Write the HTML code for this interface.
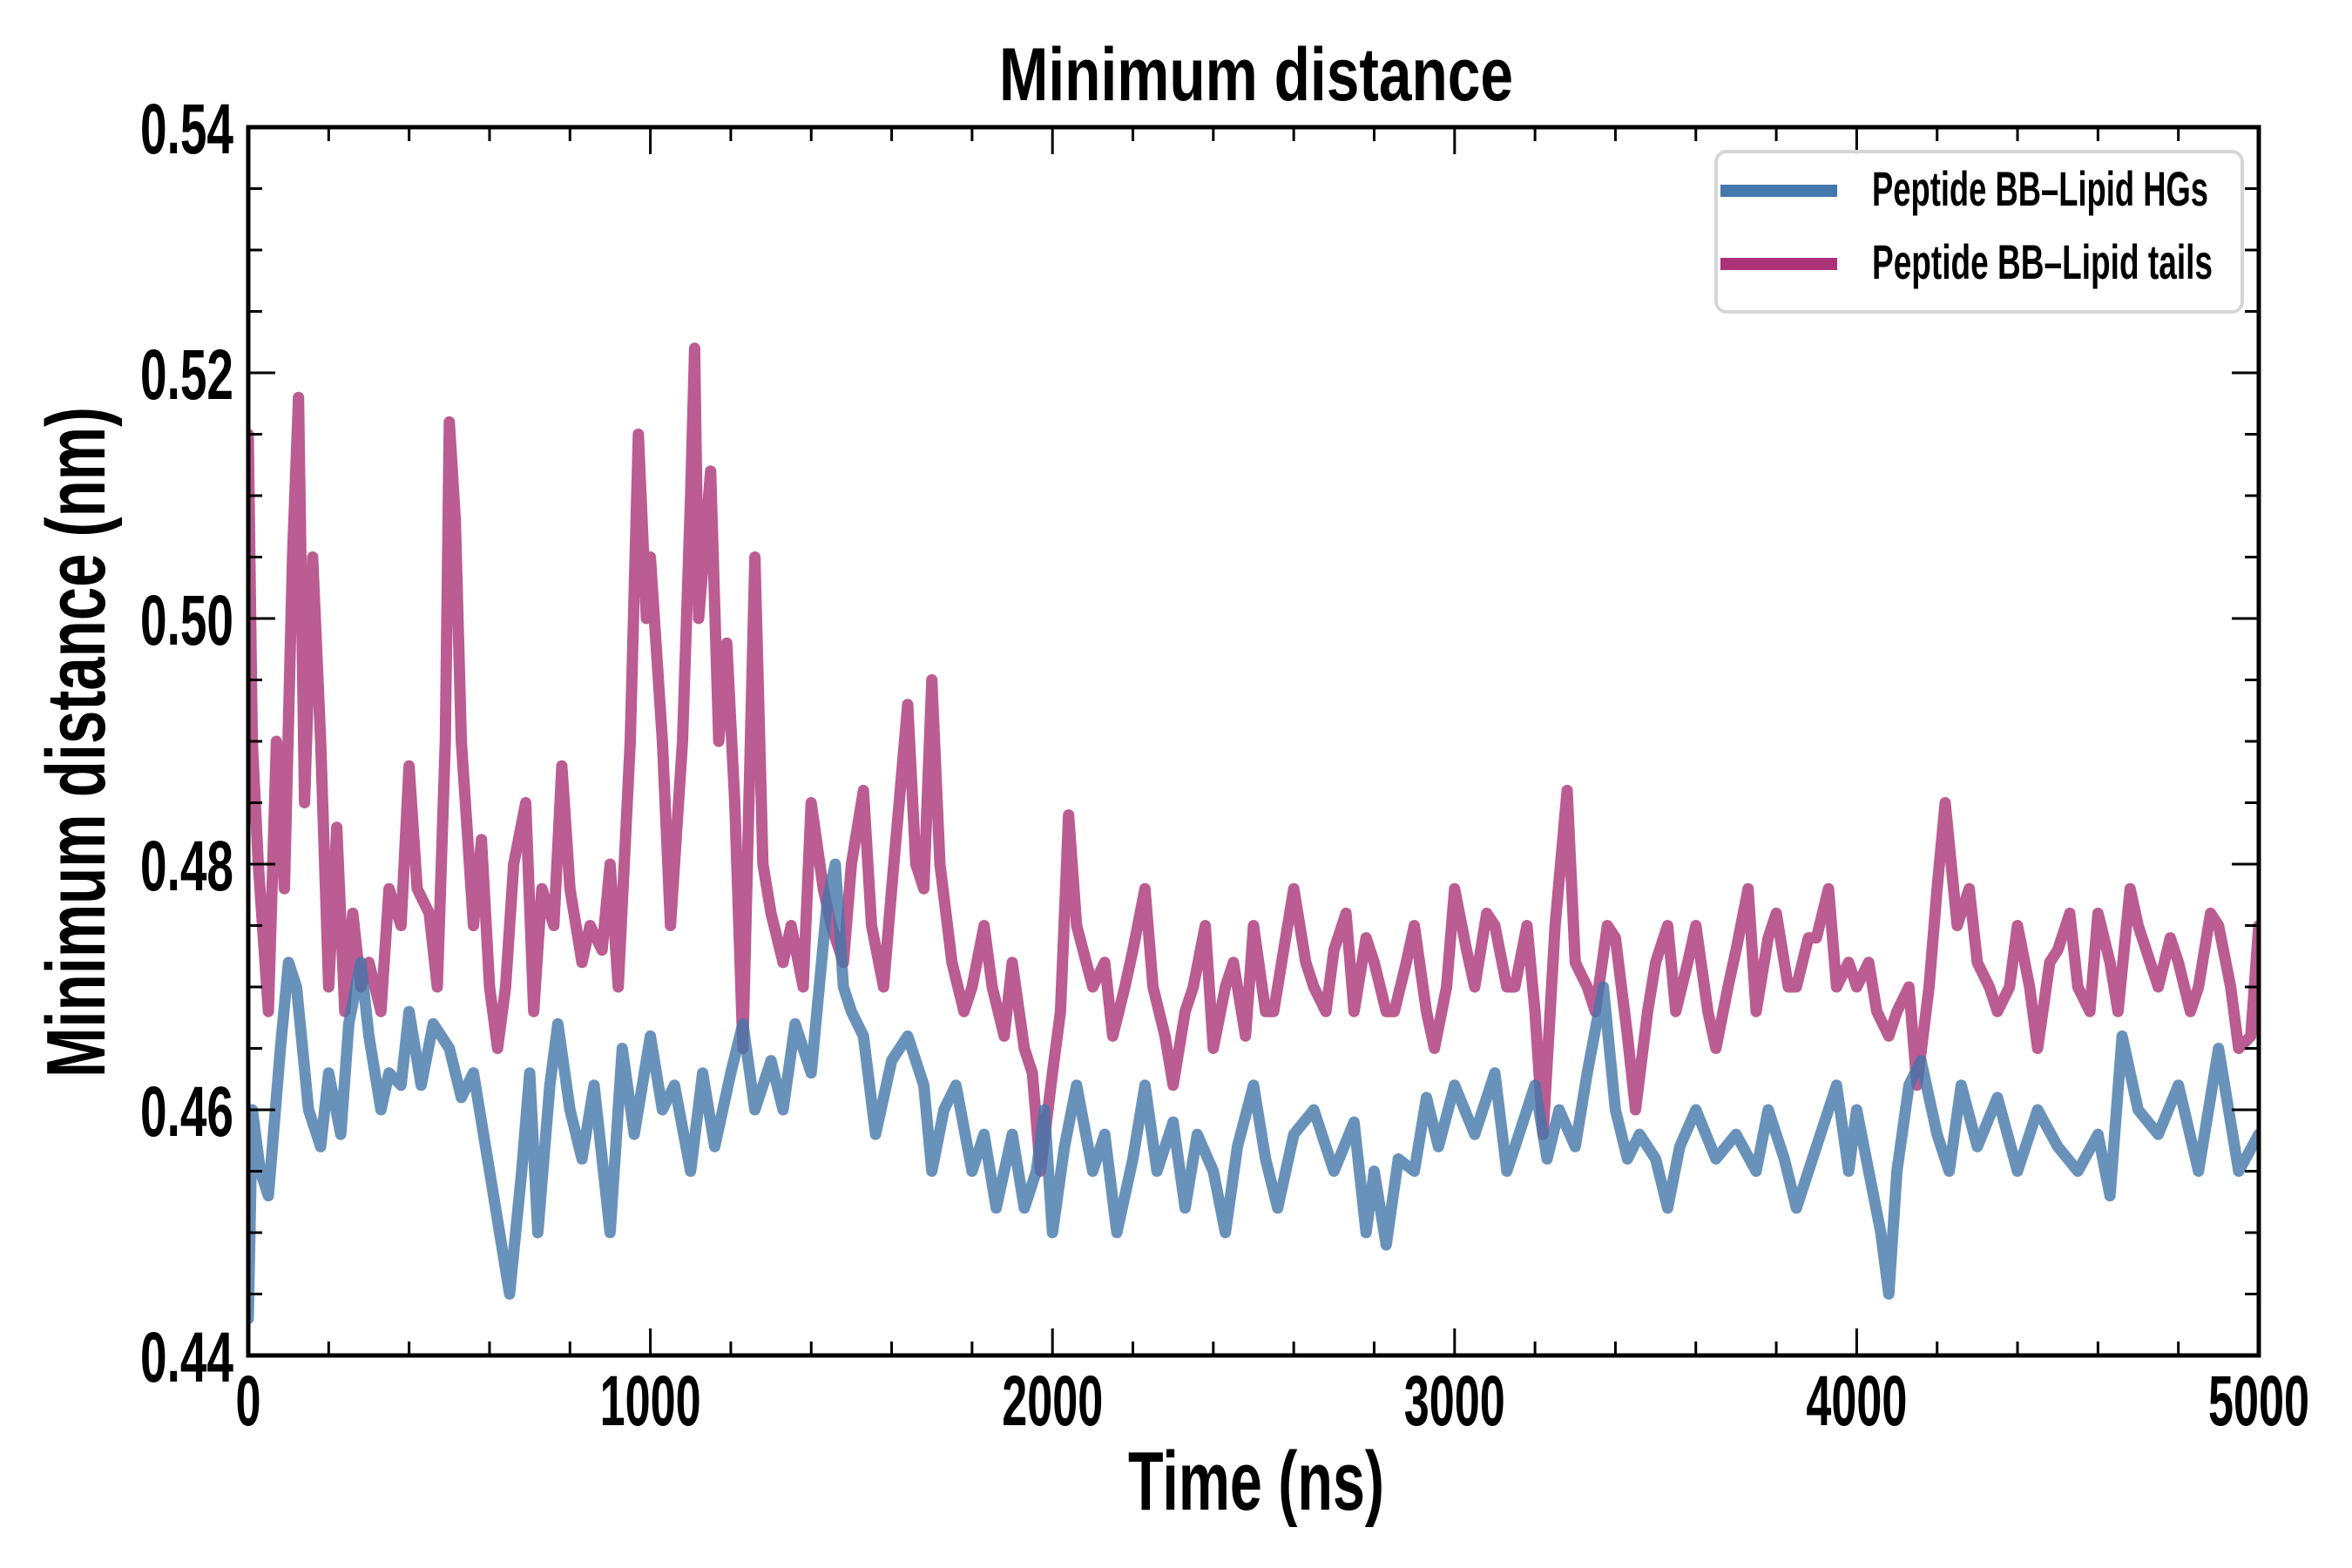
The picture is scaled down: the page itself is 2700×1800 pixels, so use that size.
<!DOCTYPE html>
<html><head><meta charset="utf-8"><style>
html,body{margin:0;padding:0;background:#fff;}
svg{display:block;}
text{font-family:"Liberation Sans Narrow","Liberation Sans",sans-serif;font-weight:bold;fill:#000;}
</style></head><body>
<svg id="chart" width="2700" height="1800" viewBox="0 0 2700 1800" xmlns="http://www.w3.org/2000/svg">
<rect width="2700" height="1800" fill="#fff"/>
<g id="series"></g>
<g id="axes"></g>
<text x="1442" y="115" font-size="86" text-anchor="middle" textLength="590" lengthAdjust="spacingAndGlyphs">Minimum distance</text>
<text x="1442" y="1733" font-size="96" text-anchor="middle" textLength="294" lengthAdjust="spacingAndGlyphs">Time (ns)</text>
<text transform="translate(120,852) rotate(-90)" x="0" y="0" font-size="96" text-anchor="middle" textLength="770" lengthAdjust="spacingAndGlyphs">Minimum distance (nm)</text>
<g>
<rect x="1970" y="174" width="604" height="184" rx="12" fill="#fff" fill-opacity="0.85" stroke="#d6d6d6" stroke-width="4"/>
<rect x="1975" y="212" width="134" height="14" fill="#4477aa"/>
<text x="2149" y="236" font-size="56" textLength="386" lengthAdjust="spacingAndGlyphs">Peptide BB–Lipid HGs</text>
<rect x="1975" y="296" width="134" height="14" fill="#aa3377"/>
<text x="2149" y="320" font-size="56" textLength="391" lengthAdjust="spacingAndGlyphs">Peptide BB–Lipid tails</text>
</g>
</svg>
<script>
const tailTimes=[0,10,25,50,70,90,110,125,140,160,180,200,220,240,260,280,300,330,350,380,400,420,450,470,490,500,515,530,560,580,600,620,640,660,690,710,730,760,780,800,830,850,880,900,920,950,970,990,1000,1030,1050,1080,1100,1110,1120,1150,1170,1190,1210,1230,1260,1280,1300,1330,1350,1380,1400,1430,1450,1480,1500,1530,1550,1580,1600,1640,1660,1680,1700,1720,1750,1780,1800,1830,1850,1880,1900,1930,1950,1970,2000,2020,2040,2060,2100,2130,2150,2180,2200,2230,2250,2280,2300,2330,2350,2380,2400,2430,2450,2480,2500,2530,2550,2580,2600,2630,2650,2680,2700,2730,2750,2780,2800,2830,2850,2880,2900,2930,2950,2980,3000,3030,3050,3080,3100,3130,3150,3180,3200,3220,3250,3280,3300,3330,3350,3380,3400,3430,3450,3480,3500,3530,3550,3580,3600,3630,3650,3680,3700,3730,3750,3780,3800,3830,3850,3880,3900,3930,3950,3980,4000,4030,4050,4080,4100,4130,4150,4180,4200,4220,4250,4280,4300,4330,4350,4380,4400,4430,4450,4480,4500,4530,4550,4580,4600,4630,4650,4680,4700,4730,4750,4780,4800,4830,4850,4880,4900,4930,4950,4980,5000];
const tailValues=[0.515,0.49,0.48,0.468,0.49,0.478,0.505,0.518,0.485,0.505,0.49,0.47,0.483,0.468,0.476,0.47,0.472,0.468,0.478,0.475,0.488,0.478,0.476,0.47,0.49,0.516,0.508,0.49,0.475,0.482,0.47,0.465,0.47,0.48,0.485,0.468,0.478,0.475,0.488,0.478,0.472,0.475,0.473,0.48,0.47,0.49,0.515,0.5,0.505,0.49,0.475,0.49,0.51,0.522,0.5,0.512,0.49,0.498,0.485,0.465,0.505,0.48,0.476,0.472,0.475,0.47,0.485,0.478,0.475,0.472,0.48,0.486,0.475,0.47,0.478,0.493,0.48,0.478,0.495,0.48,0.472,0.468,0.47,0.475,0.47,0.466,0.472,0.465,0.463,0.455,0.463,0.468,0.484,0.475,0.47,0.472,0.466,0.47,0.473,0.478,0.47,0.466,0.462,0.468,0.47,0.475,0.465,0.47,0.472,0.466,0.475,0.468,0.468,0.474,0.478,0.472,0.47,0.468,0.473,0.476,0.468,0.474,0.472,0.468,0.468,0.472,0.475,0.468,0.465,0.47,0.478,0.473,0.47,0.476,0.475,0.47,0.47,0.475,0.468,0.458,0.475,0.486,0.472,0.47,0.468,0.475,0.474,0.466,0.46,0.468,0.472,0.475,0.468,0.472,0.475,0.468,0.465,0.47,0.473,0.478,0.468,0.474,0.476,0.47,0.47,0.474,0.474,0.478,0.47,0.472,0.47,0.472,0.468,0.466,0.468,0.47,0.462,0.47,0.478,0.485,0.475,0.478,0.472,0.47,0.468,0.47,0.475,0.47,0.465,0.472,0.473,0.476,0.47,0.468,0.476,0.472,0.468,0.478,0.475,0.472,0.47,0.474,0.472,0.468,0.47,0.476,0.475,0.47,0.465,0.466,0.475];
const hgTimes=[0,10,30,50,80,100,120,150,180,200,230,250,280,300,330,350,380,400,430,460,500,530,560,600,630,650,680,700,720,750,770,800,830,860,900,930,960,1000,1030,1060,1100,1130,1160,1200,1230,1260,1300,1330,1360,1400,1440,1460,1480,1500,1530,1560,1600,1640,1680,1700,1730,1760,1800,1830,1860,1900,1930,1960,1980,2000,2030,2060,2100,2130,2160,2200,2230,2260,2300,2330,2360,2400,2430,2460,2500,2530,2560,2600,2650,2700,2750,2780,2800,2830,2860,2900,2930,2960,3000,3050,3100,3130,3160,3200,3230,3260,3300,3330,3370,3400,3430,3460,3500,3530,3560,3600,3650,3700,3750,3780,3820,3850,3900,3950,3980,4000,4030,4060,4080,4100,4130,4160,4200,4230,4260,4300,4350,4400,4450,4500,4550,4600,4630,4660,4700,4750,4800,4850,4900,4950,5000];
const hgValues=[0.443,0.46,0.455,0.453,0.465,0.472,0.47,0.46,0.457,0.463,0.458,0.467,0.472,0.466,0.46,0.463,0.462,0.468,0.462,0.467,0.465,0.461,0.463,0.455,0.449,0.445,0.455,0.463,0.45,0.462,0.467,0.46,0.456,0.462,0.45,0.465,0.458,0.466,0.46,0.462,0.455,0.463,0.457,0.463,0.467,0.46,0.464,0.46,0.467,0.463,0.477,0.48,0.47,0.468,0.466,0.458,0.464,0.466,0.462,0.455,0.46,0.462,0.455,0.458,0.452,0.458,0.452,0.455,0.46,0.45,0.457,0.462,0.455,0.458,0.45,0.456,0.462,0.455,0.459,0.452,0.458,0.455,0.45,0.457,0.462,0.456,0.452,0.458,0.46,0.455,0.459,0.45,0.455,0.449,0.456,0.455,0.461,0.457,0.462,0.458,0.463,0.455,0.458,0.462,0.456,0.46,0.457,0.463,0.47,0.46,0.456,0.458,0.456,0.452,0.457,0.46,0.456,0.458,0.455,0.46,0.456,0.452,0.457,0.462,0.455,0.46,0.455,0.45,0.445,0.455,0.462,0.464,0.458,0.455,0.462,0.457,0.461,0.455,0.46,0.457,0.455,0.458,0.453,0.466,0.46,0.458,0.462,0.455,0.465,0.455,0.458];
const xTickLabels=["0","1000","2000","3000","4000","5000"];
const yTickLabels=["0.44","0.46","0.48","0.50","0.52","0.54"];

const NS="http://www.w3.org/2000/svg";
const X0=285,X1=2593,Y0=1556,Y1=146;
const xMin=0,xMax=5000,yMin=0.44,yMax=0.54;
function sx(v){return X0+(v-xMin)/(xMax-xMin)*(X1-X0);}
function sy(v){return Y0-(v-yMin)/(yMax-yMin)*(Y0-Y1);}
function mk(tag,attrs,parent){const e=document.createElementNS(NS,tag);for(const k in attrs)e.setAttribute(k,attrs[k]);parent.appendChild(e);return e;}

const sg=document.getElementById('series');
function drawLine(ts,vs,color,name){
  let d='';
  for(let i=0;i<ts.length;i++){d+=(i?'L':'M')+sx(ts[i]).toFixed(1)+','+sy(vs[i]).toFixed(1);}
  const p=mk('path',{d:d,fill:'none',stroke:color,'stroke-opacity':0.8,'stroke-width':13,'stroke-linejoin':'round','stroke-linecap':'round'},sg);
  
  
}
const clip=mk('clipPath',{id:'pc'},sg);mk('rect',{x:X0,y:Y1,width:X1-X0,height:Y0-Y1},clip);
sg.setAttribute('clip-path','url(#pc)');
drawLine(tailTimes,tailValues,'#aa3377','tails-line');
drawLine(hgTimes,hgValues,'#4477aa','hgs-line');

const ax=document.getElementById('axes');
const frame=mk('rect',{x:X0,y:Y1,width:X1-X0,height:Y0-Y1,fill:'none',stroke:'#000','stroke-width':5},ax);


for(let v=0;v<=5000;v+=200){
  const major=v%1000===0,L=major?31:16,x=sx(v);
  const t1=mk('line',{x1:x,y1:Y0,x2:x,y2:Y0-L,stroke:'#000','stroke-width':3},ax);
  
  
  mk('line',{x1:x,y1:Y1,x2:x,y2:Y1+L,stroke:'#000','stroke-width':3},ax);
}
xTickLabels.forEach(function(s){
  const v=Number(s);
  const t=mk('text',{x:sx(v),y:1636,'font-size':82,'text-anchor':'middle',textLength:s.length*29,lengthAdjust:'spacingAndGlyphs'},ax);
  t.textContent=s;
  
  
});
for(let k=0;k<=20;k++){
  const v=0.44+k*0.005,major=k%4===0,L=major?31:16,y=sy(v);
  const t1=mk('line',{x1:X0,y1:y,x2:X0+L,y2:y,stroke:'#000','stroke-width':3},ax);
  
  
  mk('line',{x1:X1,y1:y,x2:X1-L,y2:y,stroke:'#000','stroke-width':3},ax);
}
yTickLabels.forEach(function(s){
  const v=Number(s);
  const t=mk('text',{x:268,y:sy(v)+30,'font-size':82,'text-anchor':'end',textLength:107,lengthAdjust:'spacingAndGlyphs'},ax);
  t.textContent=s;
  
  
});
</script>
</body></html>
